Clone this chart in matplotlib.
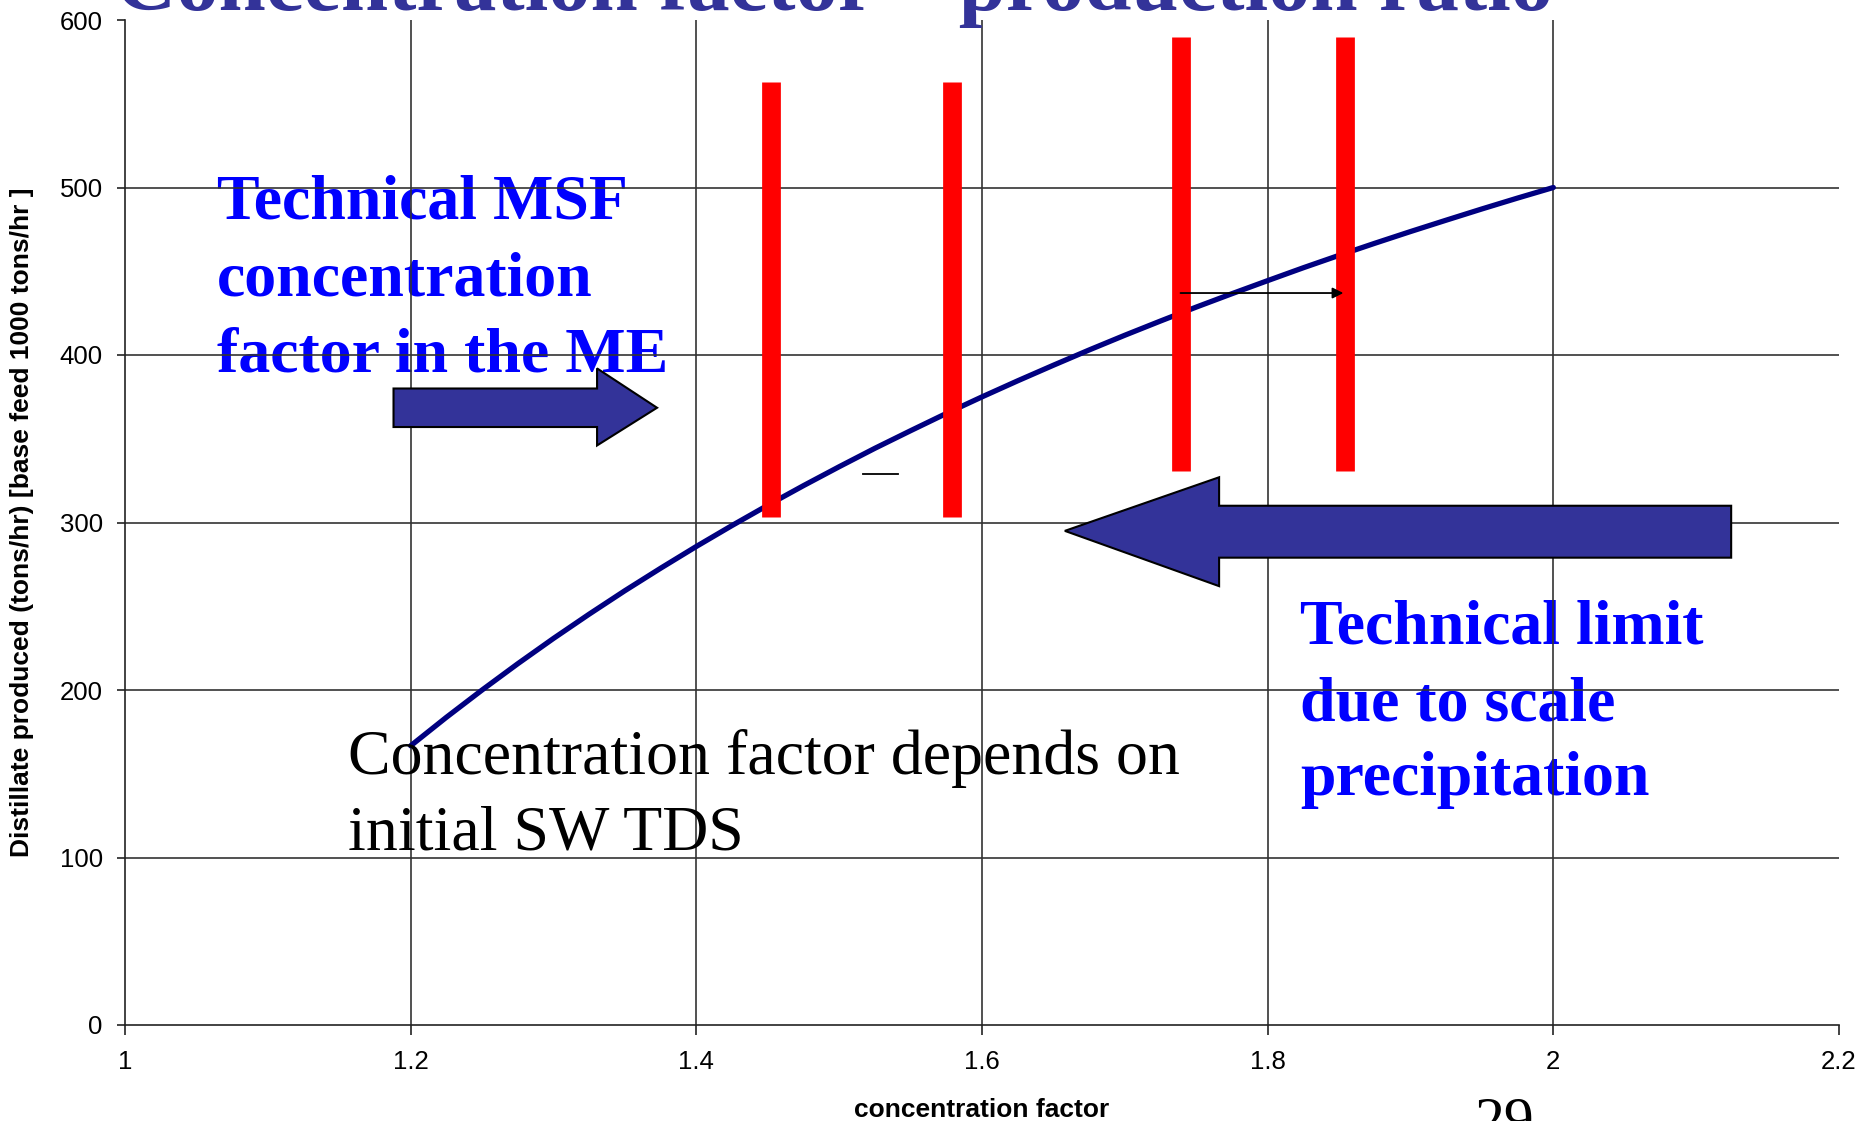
import matplotlib
matplotlib.use("Agg")
import matplotlib.pyplot as plt
from matplotlib.patches import Polygon

# ---- data ----
cf = [1.200, 1.225, 1.250, 1.275, 1.300, 1.325, 1.350, 1.375, 1.400, 1.425,
      1.450, 1.475, 1.500, 1.525, 1.550, 1.575, 1.600, 1.625, 1.650, 1.675,
      1.700, 1.725, 1.750, 1.775, 1.800, 1.825, 1.850, 1.875, 1.900, 1.925,
      1.950, 1.975, 2.000]
distillate = [166.7, 183.7, 200.0, 215.7, 230.8, 245.3, 259.3, 272.7, 285.7, 298.2,
              310.3, 322.0, 333.3, 344.3, 354.8, 365.1, 375.0, 384.6, 393.9, 403.0,
              411.8, 420.3, 428.6, 436.6, 444.4, 452.1, 459.5, 466.7, 473.7, 480.5,
              487.2, 493.7, 500.0]

limit_x = [1.452, 1.579, 1.739, 1.854]
limit_bottom = [303, 303, 331, 331]
limit_top = [563, 563, 590, 590]

x_ticks = [1.0, 1.2, 1.4, 1.6, 1.8, 2.0, 2.2]
x_tick_labels = ["1", "1.2", "1.4", "1.6", "1.8", "2", "2.2"]
y_ticks = [0, 100, 200, 300, 400, 500, 600]
y_tick_labels = ["0", "100", "200", "300", "400", "500", "600"]

# block arrows (annotation shapes, data coords)
right_arrow_x = [1.188, 1.3305, 1.3305, 1.3725, 1.3305, 1.3305, 1.188]
right_arrow_y = [357, 357, 346, 368.5, 392, 380, 380]
left_arrow_x = [1.658, 1.766, 1.766, 2.1245, 2.1245, 1.766, 1.766]
left_arrow_y = [295, 327, 310, 310, 279, 279, 262]

title = "Concentration factor \u2013 production ratio"
xlabel = "concentration factor"
ylabel = "Distillate produced (tons/hr) [base feed 1000 tons/hr ]"

W, H = 1860, 1121
fig = plt.figure(figsize=(W / 100, H / 100), dpi=100)
ax = fig.add_axes([125 / W, 1 - 1025 / H, (1839 - 125) / W, (1025 - 20) / H])
ax.set_xlim(1.0, 2.2)
ax.set_ylim(0, 600)

sans = ["Liberation Sans", "DejaVu Sans"]
serif = ["Liberation Serif", "DejaVu Serif"]

for s in ["top", "right"]:
    ax.spines[s].set_visible(False)
for s in ["left", "bottom"]:
    ax.spines[s].set_color("#222222")
    ax.spines[s].set_linewidth(1.2)

ax.set_xticks(x_ticks)
ax.set_xticklabels(x_tick_labels, fontfamily=sans, fontsize=18.5)
ax.set_yticks(y_ticks)
ax.set_yticklabels(y_tick_labels, fontfamily=sans, fontsize=18.5)
ax.tick_params(axis="x", direction="out", length=7, width=1.2, color="#222222", pad=11)
ax.tick_params(axis="y", direction="out", length=6, width=1.2, color="#222222", pad=10)

# gridlines (skip the outer edges)
ax.vlines(x_ticks[1:-1], 0, 600, colors="#333333", linewidth=1.2, zorder=1.5)
ax.hlines(y_ticks[1:-1], 1.0, 2.2, colors="#333333", linewidth=1.2, zorder=1.5)

ax.set_xlabel(xlabel, fontfamily=sans, fontweight="bold", fontsize=19)
ax.xaxis.set_label_coords(0.5, -0.073)
ax.set_ylabel(ylabel, fontfamily=sans, fontweight="bold", fontsize=19)
ax.yaxis.set_label_coords(-0.053, 0.5)

# curve
ax.plot(cf, distillate, color="#000080", linewidth=3.8, zorder=3,
        solid_capstyle="round", solid_joinstyle="round")

# red limit bars
ax.vlines(limit_x, limit_bottom, limit_top, colors="#FF0000", linewidth=13.5,
          zorder=5, capstyle="butt")

# block arrows
for xs, ys in [(right_arrow_x, right_arrow_y), (left_arrow_x, left_arrow_y)]:
    ax.add_patch(Polygon(list(zip(xs, ys)), closed=True, facecolor="#333399",
                         edgecolor="black", linewidth=1.5, zorder=4, clip_on=False))

# small arrow and dash
ax.annotate("", xy=(1.853, 437), xytext=(1.739, 437),
            arrowprops=dict(arrowstyle="-|>", color="black", lw=1.3,
                            mutation_scale=16, shrinkA=0, shrinkB=0), zorder=6)
ax.plot([1.517, 1.541], [329, 329], color="black", linewidth=1.3, zorder=6)

# annotation texts
blue = "#0000FF"
for txt, y in [("Technical MSF", 481.5), ("concentration", 435.5), ("factor in the ME", 390)]:
    ax.text(1.0644, y, txt, fontfamily=serif, fontweight="bold", fontsize=46,
            color=blue, va="baseline", ha="left", zorder=1)
for txt, y in [("Technical limit", 227.5), ("due to scale", 181.5), ("precipitation", 137.3)]:
    ax.text(1.8227, y, txt, fontfamily=serif, fontweight="bold", fontsize=46,
            color=blue, va="baseline", ha="left", zorder=1)
for txt, y in [("Concentration factor depends on", 149.6), ("initial SW TDS", 104.5)]:
    ax.text(1.1558, y, txt, fontfamily=serif, fontsize=46,
            color="black", va="baseline", ha="left", zorder=6)

# title (cut off at the top) and page number
fig.text(115 / W, 1 - 10 / H, title, fontfamily=serif, fontweight="bold",
         fontsize=61, color="#333399", va="baseline", ha="left")
fig.text(1504 / W, 1 - 1137 / H, "29", fontfamily=serif, fontsize=43,
         color="black", va="baseline", ha="center")

fig.savefig("out.png", dpi=100)
